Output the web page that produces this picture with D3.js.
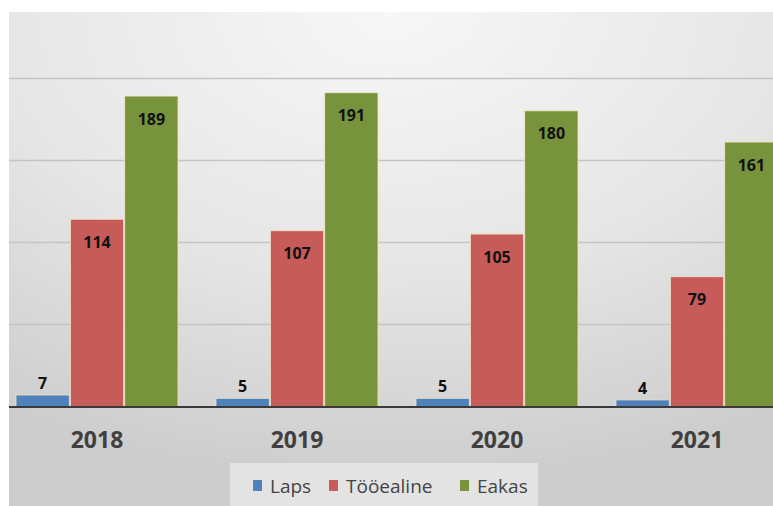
<!DOCTYPE html>
<html>
<head>
<meta charset="utf-8">
<script src="https://cdn.jsdelivr.net/npm/d3@7"></script>
<style>
  body { margin: 0; background: #fff; }
  svg { display: block; }
</style>
</head>
<body>
<svg id="chart" width="773" height="506"></svg>
<script>
// data
const years = ["2018", "2019", "2020", "2021"]
const seriesNames = ["Laps", "Tööealine", "Eakas"]
const laps = [7, 5, 5, 4]
const tooealine = [114, 107, 105, 79]
const eakas = [189, 191, 180, 161]
const gridTicks = [50, 100, 150, 200]

const colors = ["#4f81bd", "#c75b59", "#77933c"]
const seriesVals = [laps, tooealine, eakas]

const rows = years.map((y, i) => ({
    year: y,
    vals: seriesNames.map((s, k) => ({key: s, k: k, val: seriesVals[k][i]}))
}))

const svg = d3.select("#chart")
const W = 773, H = 506
const panel = {x: 9, y: 12}
const baseY = 406.5

// background gradient
const defs = svg.append("defs")
const grad = defs.append("radialGradient")
    .attr("id", "bg")
    .attr("cx", "50%").attr("cy", "0%")
    .attr("r", "95%")
grad.append("stop").attr("offset", "0%").attr("stop-color", "#f7f7f7")
grad.append("stop").attr("offset", "55%").attr("stop-color", "#e6e6e6")
grad.append("stop").attr("offset", "100%").attr("stop-color", "#cdcdcd")

svg.append("rect")
    .attr("x", panel.x)
    .attr("y", panel.y)
    .attr("width", W - panel.x)
    .attr("height", H - panel.y)
    .attr("fill", "url(#bg)")

const y = d3.scaleLinear()
    .domain([0, 200])
    .range([baseY, 78])

const x0 = d3.scaleBand()
    .domain(years)
    .range([-3, 797])
    .paddingInner(0.19)
    .paddingOuter(0.095)

const x1 = d3.scaleBand()
    .domain(seriesNames)
    .range([0, x0.bandwidth()])
    .paddingInner(0.02)

// gridlines
svg.append("g")
    .selectAll("line")
    .data(gridTicks)
    .enter()
    .append("line")
    .attr("x1", panel.x)
    .attr("x2", W)
    .attr("y1", d => Math.round(y(d)) + 0.5)
    .attr("y2", d => Math.round(y(d)) + 0.5)
    .attr("stroke", "#c4c4c4")
    .attr("stroke-width", 1.5)

// bars
const groups = svg.append("g")
    .selectAll("g")
    .data(rows)
    .enter()
    .append("g")
    .attr("transform", d => `translate(${x0(d.year)},0)`)

groups.selectAll("rect")
    .data(d => d.vals)
    .enter()
    .append("rect")
    .attr("x", d => x1(d.key))
    .attr("y", d => y(d.val))
    .attr("width", x1.bandwidth())
    .attr("height", d => baseY - y(d.val))
    .attr("fill", d => colors[d.k])
    .attr("stroke", "#efe6c4")
    .attr("stroke-width", 0.8)

groups.selectAll("text")
    .data(d => d.vals)
    .enter()
    .append("text")
    .attr("x", d => x1(d.key) + x1.bandwidth()/2)
    .attr("y", d => d.val < 20 ? y(d.val) - 12 : y(d.val) + 23)
    .attr("dy", "0.35em")
    .attr("text-anchor", "middle")
    .attr("font-family", "'Open Sans', sans-serif")
    .attr("font-weight", "bold")
    .attr("font-size", "16px")
    .attr("fill", "#111")
    .text(d => d.val)

// axis
const xAxis = svg.append("g")
    .attr("transform", `translate(0,${baseY})`)
    .call(d3.axisBottom(x0).tickSize(0).tickPadding(25))
xAxis.select(".domain").remove()
xAxis.selectAll("text")
    .attr("font-family", "'Open Sans', sans-serif")
    .attr("font-weight", "bold")
    .attr("font-size", "23px")
    .attr("fill", "#404040")
svg.append("line")
    .attr("x1", panel.x)
    .attr("x2", W)
    .attr("y1", baseY + 0.5)
    .attr("y2", baseY + 0.5)
    .attr("stroke", "#3a3a3a")
    .attr("stroke-width", 2)

// legend
const legend = svg.append("g")
legend.append("rect")
    .attr("x", 230)
    .attr("y", 463)
    .attr("width", 308)
    .attr("height", 43)
    .attr("fill", "#e9e9e9")
    .attr("fill-opacity", 0.8)

const legendX = [253, 329, 460]
const legItems = legend.selectAll("g")
    .data(seriesNames)
    .enter()
    .append("g")
    .attr("transform", (d, i) => `translate(${legendX[i]},486)`)
legItems.append("rect")
    .attr("x", 0)
    .attr("y", -6)
    .attr("width", 9)
    .attr("height", 11)
    .attr("fill", (d, i) => colors[i])
legItems.append("text")
    .attr("x", 17)
    .attr("y", 0)
    .attr("dy", "0.35em")
    .attr("font-family", "'Open Sans', sans-serif")
    .attr("font-size", "19px")
    .attr("fill", "#444")
    .text(d => d)
</script>
</body>
</html>
